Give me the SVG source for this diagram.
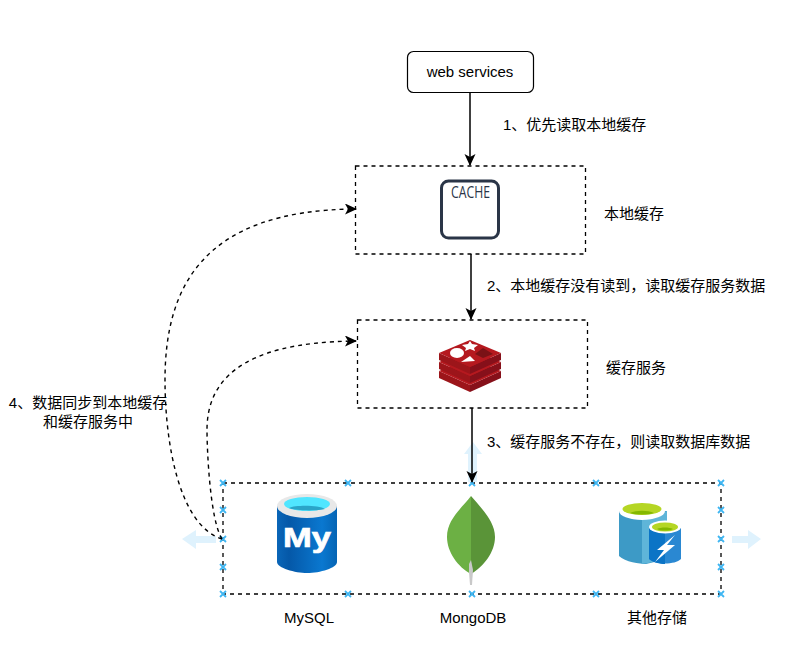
<svg xmlns="http://www.w3.org/2000/svg" xmlns:xlink="http://www.w3.org/1999/xlink" width="808" height="664" viewBox="0 0 808 664">
<style>
text{font-family:"Liberation Sans","Noto Sans CJK SC",sans-serif;font-size:15px;fill:#000}
.box{fill:#fff;stroke:#000;stroke-width:1.3;stroke-dasharray:4 4}
.line{fill:none;stroke:#000;stroke-width:1.5}
.dash{fill:none;stroke:#000;stroke-width:1.4;stroke-dasharray:4 4}
.guide{fill:#dff2fd}
.cross{stroke:#3fb6f2;stroke-width:1.8;fill:none}
.rt{fill:#b5191f}
.rl{fill:#9c151a}
.rr{fill:#86101a}
</style>
<defs>
<marker id="arr" markerUnits="userSpaceOnUse" markerWidth="14" markerHeight="12" refX="11" refY="5.500" orient="auto"><path d="M0 0L12 5.500L0 11L3 5.500Z" fill="#000"/></marker>
<path id="x" class="cross" d="M-3 -3L3 3M3 -3L-3 3"/>
<g id="layer"><path class="rl" d="M439 13L470 27V34L439 20Z"/><path class="rr" d="M501 13L470 27V34L501 20Z"/><path class="rt" d="M470 0L501 13L470 27L439 13Z"/></g>
<linearGradient id="my" x1="0" x2="1" y1="0" y2="0"><stop offset="0" stop-color="#0a66b8"/><stop offset=".2" stop-color="#0558a8"/><stop offset=".75" stop-color="#0a78d0"/><stop offset="1" stop-color="#0564b4"/></linearGradient>
</defs>
<rect width="808" height="664" fill="#fff"/>
<g id="local-cache"><rect class="box" x="355.500" y="166" width="230" height="88"/>
<rect x="441.500" y="181" width="57" height="57" rx="7" fill="#fff" stroke="#2a3547" stroke-width="3"/>
<text x="470.500" y="198" text-anchor="middle" style="font-family:'Open Sans','Liberation Sans',sans-serif;font-size:16px;font-weight:400;fill:#2a3547" textLength="39" lengthAdjust="spacingAndGlyphs">CACHE</text>
<text x="604" y="219">本地缓存</text></g>
<g id="redis"><rect class="box" x="357.500" y="320" width="230" height="88"/>
<use xlink:href="#layer" y="358"/><use xlink:href="#layer" y="349"/><use xlink:href="#layer" y="340"/>
<ellipse cx="457" cy="353" rx="7" ry="5" fill="#fff"/>
<path d="M470 341L472 344L478 345L474 348L475 351L470 349L465 351L466 348L462 345L468 344Z" fill="#fff"/>
<path d="M461 362L475 361L470 356Z" fill="#fff"/>
<path d="M475 354L483 348L493 354L483 358Z" fill="#7a1216"/>
<text x="606" y="373">缓存服务</text></g>
<g id="storage"><rect class="box" x="223" y="483" width="498" height="111"/>
<use xlink:href="#x" x="223" y="483"/><use xlink:href="#x" x="348" y="483"/><use xlink:href="#x" x="472" y="483"/><use xlink:href="#x" x="596" y="483"/><use xlink:href="#x" x="721" y="483"/>
<use xlink:href="#x" x="223" y="594"/><use xlink:href="#x" x="348" y="594"/><use xlink:href="#x" x="472" y="594"/><use xlink:href="#x" x="596" y="594"/><use xlink:href="#x" x="721" y="594"/>
<use xlink:href="#x" x="223" y="510"/><use xlink:href="#x" x="223" y="539"/><use xlink:href="#x" x="223" y="567"/>
<use xlink:href="#x" x="721" y="510"/><use xlink:href="#x" x="721" y="539"/><use xlink:href="#x" x="721" y="567"/>
<path class="guide" d="M216 536H196V530L182 539L196 549V543H216Z"/>
<path class="guide" d="M732 536H748V530L761 539L748 549V543H732Z"/>
<path class="guide" d="M468 482V454H464L473 442L482 454H477V482Z"/></g>
<g id="mysql"><path d="M277 506V562C277 568 295 573 307 573C320 573 337 568 337 562V506Z" fill="url(#my)"/>
<ellipse cx="307" cy="506" rx="30" ry="12" fill="#e8e8e8"/>
<ellipse cx="307" cy="504" rx="23" ry="7" fill="#50e6ff"/>
<path d="M289 508C295 505 319 505 325 509C319 511 295 511 289 508Z" fill="#2aa5c8"/>
<text x="307" y="547" text-anchor="middle" style="font-family:'Liberation Sans',sans-serif;font-size:28px;font-weight:bold;fill:#fff;stroke:#fff;stroke-width:.7" textLength="48" lengthAdjust="spacingAndGlyphs">My</text>
<text x="309" y="623" text-anchor="middle">MySQL</text></g>
<g id="mongodb"><path d="M471 496C460 510 447 520 447 537C447 552 458 567 471 574Z" fill="#6cb044"/>
<path d="M471 496C483 510 495 522 495 537C495 552 484 566 471 574Z" fill="#5a9438"/>
<path d="M469 564L471 560L473 570L472 585H470L469 572Z" fill="#c9c9c9"/>
<text x="473" y="623" text-anchor="middle">MongoDB</text></g>
<g id="other"><path d="M619 511V556C625 562 640 564 646 564L667 559V511Z" fill="#3d9ac6"/>
<path d="M642 518V564C650 563 660 560 667 556V511Z" fill="#5fb5d9"/>
<ellipse cx="642" cy="511" rx="23" ry="9" fill="#fff"/>
<ellipse cx="642" cy="509" rx="19.500" ry="6" fill="#b5d624"/>
<path d="M630 513C636 510 648 510 654 513C648 515 636 515 630 513Z" fill="#84b800"/>
<path d="M649 528V559C655 565 675 565 681 559V528Z" fill="#2a88d2"/>
<path d="M649 528V559C652 562 660 564 665 564V528Z" fill="#0b74c6"/>
<ellipse cx="665" cy="527" rx="16" ry="6.500" fill="#fff"/>
<ellipse cx="665" cy="527" rx="13" ry="4.500" fill="#b5d624"/>
<path d="M657 529C661 527 669 527 673 529C669 531 661 531 657 529Z" fill="#84b800"/>
<path d="M675 535L657 550H664L655 562L675 545H667Z" fill="#fff"/>
<text x="657" y="623" text-anchor="middle">其他存储</text></g>
<g id="web-services"><rect x="407.500" y="51.500" width="126" height="41" rx="6" fill="#fff" stroke="#000" stroke-width="1.200"/>
<text x="470" y="77" text-anchor="middle">web services</text></g>
<g id="connectors">
<path class="line" d="M470 93V165" marker-end="url(#arr)"/>
<path class="line" d="M471 254V319" marker-end="url(#arr)"/>
<path class="line" d="M472 408V482" marker-end="url(#arr)"/>
<path class="dash" d="M222 539C178 525 165 440 165 380C165 290 200 210 356 209" marker-end="url(#arr)"/>
<path class="dash" d="M222 539C210 520 207 450 207 430C207 385 235 342 356 341" marker-end="url(#arr)"/>
</g>
<g id="labels">
<text x="503" y="130">1、优先读取本地缓存</text>
<text x="487" y="291">2、本地缓存没有读到，读取缓存服务数据</text>
<text x="487" y="447">3、缓存服务不存在，则读取数据库数据</text>
<text x="88" y="408" text-anchor="middle">4、数据同步到本地缓存</text>
<text x="88" y="427" text-anchor="middle">和缓存服务中</text>
</g>
</svg>
